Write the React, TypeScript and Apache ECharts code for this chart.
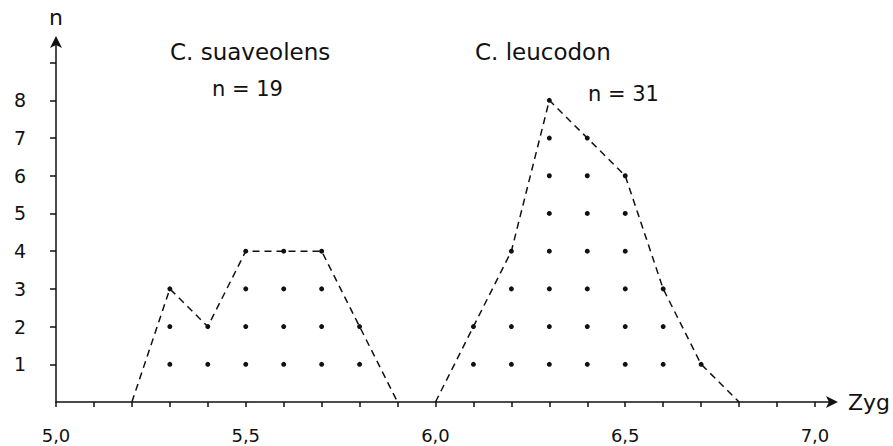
import React, { useEffect, useRef } from "react";
import * as echarts from "echarts";

// Zyg classes (x) and counts n for each species
const suaveolensX = [5.2, 5.3, 5.4, 5.5, 5.6, 5.7, 5.8, 5.9];
const suaveolensN = [0, 3, 2, 4, 4, 4, 2, 0];
const leucodonX = [6.0, 6.1, 6.2, 6.3, 6.4, 6.5, 6.6, 6.7, 6.8];
const leucodonN = [0, 2, 4, 8, 7, 6, 3, 1, 0];

const xTicks = [5.0, 5.1, 5.2, 5.3, 5.4, 5.5, 5.6, 5.7, 5.8, 5.9, 6.0, 6.1, 6.2, 6.3, 6.4, 6.5, 6.6, 6.7, 6.8, 6.9, 7.0];
const xLabels = [5.0, 5.5, 6.0, 6.5, 7.0];
const yTicks = [1, 2, 3, 4, 5, 6, 7, 8, 9];
const yLabels = [1, 2, 3, 4, 5, 6, 7, 8];

const titles = ["C. suaveolens", "C. leucodon"];
const totals = ["n = 19", "n = 31"];

const FONT = "DejaVu Sans";
const INK = "#111111";

function dotsOf(xs: number[], ns: number[]) {
  const out: number[][] = [];
  xs.forEach((x, i) => {
    for (let k = 1; k <= ns[i]; k++) out.push([x, k]);
  });
  return out;
}

export default function App() {
  const ref = useRef<HTMLDivElement>(null);
  useEffect(() => {
    if (!ref.current) return;
    const chart = echarts.init(ref.current, null, { renderer: "svg" });
    const lineStyle = { color: INK, width: 1.5, type: [7, 5] as any };
    chart.setOption({
      animation: false,
      backgroundColor: "#ffffff",
      grid: { left: 56, right: 55, top: 40, bottom: 44 },
      xAxis: {
        type: "value",
        min: 5.0,
        max: 7.05,
        name: "Zyg",
        nameLocation: "end",
        nameGap: 14,
        nameTextStyle: { fontFamily: FONT, fontSize: 22, color: INK },
        axisLine: {
          show: true,
          onZero: false,
          symbol: ["none", "arrow"],
          symbolSize: [9, 12],
          symbolOffset: [0, 4],
          lineStyle: { color: INK, width: 1.5 },
        },
        axisTick: {
          show: true,
          length: 5,
          customValues: xTicks,
          lineStyle: { color: INK, width: 1.5 },
        },
        axisLabel: {
          customValues: xLabels,
          margin: 24,
          fontFamily: FONT,
          fontSize: 18,
          color: INK,
          formatter: (v: number) => v.toFixed(1).replace(".", ","),
        },
        splitLine: { show: false },
      },
      yAxis: {
        type: "value",
        min: 0,
        max: 9.6,
        name: "n",
        nameLocation: "end",
        nameGap: 12,
        nameTextStyle: { fontFamily: FONT, fontSize: 22, color: INK },
        axisLine: {
          show: true,
          onZero: false,
          symbol: ["none", "arrow"],
          symbolSize: [9, 12],
          symbolOffset: [0, 4],
          lineStyle: { color: INK, width: 1.5 },
        },
        axisTick: {
          show: true,
          length: 6,
          customValues: yTicks,
          lineStyle: { color: INK, width: 1.5 },
        },
        axisLabel: {
          customValues: yLabels,
          margin: 30,
          fontFamily: FONT,
          fontSize: 19,
          color: INK,
          padding: [0, 0, 8, 0],
        },
        splitLine: { show: false },
      },
      series: [
        {
          name: titles[0],
          type: "line",
          data: suaveolensX.map((x, i) => [x, suaveolensN[i]]),
          symbol: "none",
          lineStyle,
        },
        {
          name: titles[1],
          type: "line",
          data: leucodonX.map((x, i) => [x, leucodonN[i]]),
          symbol: "none",
          lineStyle,
        },
        {
          name: "dots",
          type: "scatter",
          data: [...dotsOf(suaveolensX, suaveolensN), ...dotsOf(leucodonX, leucodonN)],
          symbol: "circle",
          symbolSize: 5,
          itemStyle: { color: INK, opacity: 1 },
        },
      ],
      graphic: [
        { type: "text", left: 170, top: 40, style: { text: titles[0], font: `23px "${FONT}"`, fill: INK } },
        { type: "text", left: 212, top: 78, style: { text: totals[0], font: `21px "${FONT}"`, fill: INK } },
        { type: "text", left: 475, top: 40, style: { text: titles[1], font: `23px "${FONT}"`, fill: INK } },
        { type: "text", left: 588, top: 83, style: { text: totals[1], font: `21px "${FONT}"`, fill: INK } },
      ],
    });
    return () => chart.dispose();
  }, []);
  return (
    <div
      ref={ref}
      style={{ position: "fixed", left: 0, top: 0, width: 893, height: 446, background: "#fff" }}
    />
  );
}
